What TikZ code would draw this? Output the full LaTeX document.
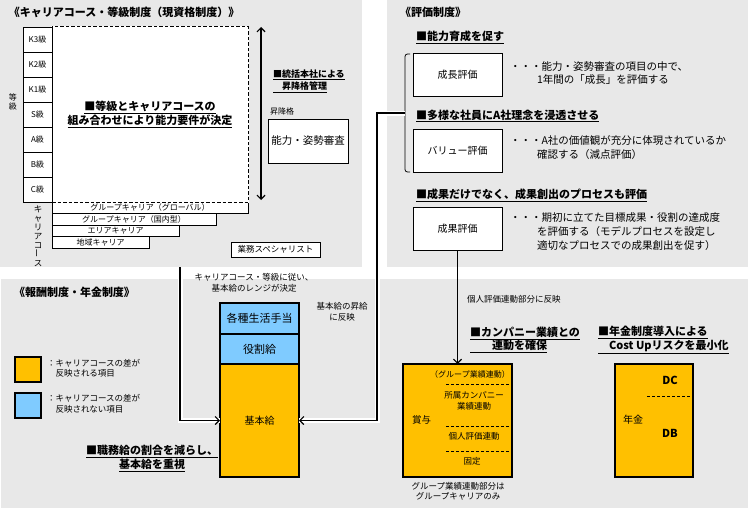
\documentclass[tikz,border=0pt]{standalone}
\usepackage{fontspec}
\usepackage{graphicx}
\setmainfont{Noto Sans CJK JP}
\usetikzlibrary{arrows.meta}
\definecolor{panelgray}{HTML}{E8E8E8}
\definecolor{orng}{HTML}{FFC000}
\definecolor{lblue}{HTML}{7FCBFF}
\begin{document}
\begin{tikzpicture}[x=1pt,y=-1pt,
  every node/.style={inner sep=0pt, outer sep=0pt},
  t8/.style={font=\fontsize{8}{9.5}\selectfont},
  t85/.style={font=\fontsize{8.5}{10.5}\selectfont},
  t10/.style={font=\fontsize{10}{12}\selectfont},
  t105/.style={font=\fontsize{10.5}{13.5}\selectfont},
  t11/.style={font=\fontsize{11}{13}\selectfont},
  hd/.style={font=\bfseries\fontsize{11}{13.5}\selectfont},
  ttl/.style={font=\bfseries\fontsize{11}{13}\selectfont, anchor=west},
  grade/.style={draw, fill=white, minimum width=29pt, minimum height=25pt, t8},
  bar/.style={draw, fill=white, anchor=north west, minimum height=11.5pt, t8},
  evbox/.style={draw, fill=white, minimum width=89pt, minimum height=43pt, t10},
  pay/.style={draw, line width=1.4pt, minimum width=79pt},
  conn/.style={line width=1.2pt, -{Straight Barb[length=4pt,width=8pt]}},
  casing/.style={preaction={draw=white, line width=5pt, arrows=-}},
  dsh/.style={dash pattern=on 3pt off 2pt, line width=0.9pt}]
\useasboundingbox (0,0) rectangle (750,511);
% panels
\fill[panelgray] (0,0) rectangle (362,267);
\fill[panelgray] (387,0) rectangle (748,267);
\fill[panelgray] (1,279) rectangle (748,508);

% ===== top-left panel =====
\node[ttl] (t1) at (9,12) {《キャリアコース・等級制度（現資格制度）》};
\node[bar, minimum width=196pt] (c1) at (52,202) {グループキャリア（グローバル）};
\node[bar, minimum width=164pt] (c2) at (52,213.5) {グループキャリア（国内型）};
\node[bar, minimum width=127pt] (c3) at (52,225) {エリアキャリア};
\node[bar, minimum width=97pt] (c4) at (52,236.5) {地域キャリア};
\node[draw, fill=white, dash pattern=on 3.5pt off 2pt, line width=1pt,
      preaction={draw=white, solid, line width=1.2pt},
      minimum width=196pt, minimum height=175pt] (main) at (150,114.5) {};
\node[hd, align=center] (maintxt) at (150,114.5)
  {\underline{■等級とキャリアコースの}\\\underline{組み合わせにより能力要件が決定}};
\node[grade] (g1) at (37.5,39.5) {K3級};
\node[grade] (g2) at (37.5,64.5) {K2級};
\node[grade] (g3) at (37.5,89.5) {K1級};
\node[grade] (g4) at (37.5,114.5) {S級};
\node[grade] (g5) at (37.5,139.5) {A級};
\node[grade] (g6) at (37.5,164.5) {B級};
\node[grade] (g7) at (37.5,189.5) {C級};
\node[font=\fontsize{8}{9}\selectfont, align=center] (tokyu) at (13,102) {等\\級};
\node[font=\fontsize{8.5}{9}\selectfont, align=center] (cc) at (38,236)
  {キ\\ャ\\リ\\ア\\コ\\\rotatebox{90}{ー}\\ス};
\coordinate (da1) at (261,27);
\coordinate (da2) at (261,200);
\draw[line width=1.2pt, {Straight Barb[length=4pt,width=8pt]}-{Straight Barb[length=4pt,width=8pt]}] (da1) -- (da2);
\node[font=\bfseries\fontsize{9}{12.5}\selectfont, align=left, anchor=west] (tokatsu) at (273,81)
  {\underline{■統括本社による}\\\underline{　昇降格管理}};
\node[t8, anchor=west] (shoko) at (270,111) {昇降格};
\node[draw, fill=white, minimum width=80pt, minimum height=44pt, t105] (shinsa) at (308,141) {能力・姿勢審査};
\node[draw, fill=white, minimum width=89pt, minimum height=15pt, t85] (gyomu) at (275.5,249.5) {業務スペシャリスト};

% ===== top-right panel =====
\node[ttl] (t2) at (400,12) {《評価制度》};
\node[hd, anchor=west] (h1) at (416,37) {\underline{■能力育成を促す}};
\node[evbox] (seicho) at (457.5,74.5) {成長評価};
\node[t105, anchor=west] (d1a) at (510,67) {・・・能力・姿勢審査の項目の中で、};
\node[t105, anchor=west] (d1b) at (537,80) {1年間の「成長」を評価する};
\node[hd, anchor=west] (h2) at (416,116) {\underline{■多様な社員にA社理念を浸透させる}};
\node[evbox] (value) at (457.5,150.5) {バリュー評価};
\node[t105, anchor=west] (d2a) at (510,141) {・・・A社の価値観が充分に体現されているか};
\node[t105, anchor=west] (d2b) at (537,155) {確認する（減点評価）};
\node[hd, anchor=west] (h3) at (416,195) {\underline{■成果だけでなく、成果創出のプロセスも評価}};
\node[evbox] (seika) at (457.5,228.5) {成果評価};
\node[t105, anchor=west] (d3a) at (510,218) {・・・期初に立てた目標成果・役割の達成度};
\node[t105, anchor=west] (d3b) at (537,232) {を評価する（モデルプロセスを設定し};
\node[t105, anchor=west] (d3c) at (537,246) {適切なプロセスでの成果創出を促す）};
\draw[line width=0.8pt, rounded corners=2.5pt] (410,54) -| (405,172) -- (410,172);
\coordinate (brk) at (405,113);
\coordinate (rc) at (377,113);

% ===== bottom panel =====
\node[ttl] (t3) at (14,292) {《報酬制度・年金制度》};
\node[draw, line width=1.4pt, fill=orng, minimum width=26pt, minimum height=25pt] (lg1) at (28,369.5) {};
\node[t85, align=left, anchor=west] (lg1t) at (47,368.5) {：キャリアコースの差が\\\phantom{：}反映される項目};
\node[draw, line width=1.4pt, fill=lblue, minimum width=26pt, minimum height=25pt] (lg2) at (28,405.5) {};
\node[t85, align=left, anchor=west] (lg2t) at (47,404) {：キャリアコースの差が\\\phantom{：}反映されない項目};

\node[pay, fill=orng, minimum height=113pt, t10] (kihon) at (259.5,420.5) {基本給};
\node[pay, fill=lblue, minimum height=30pt, t11] (yakuwari) at (259.5,349) {役割給};
\node[pay, fill=lblue, minimum height=31pt, t11] (seikatsu) at (259.5,318.5) {各種生活手当};
\node[t85, align=center, font=\fontsize{8.5}{11}\selectfont] (range) at (254,282.5)
  {キャリアコース・等級に従い、\\基本給のレンジが決定};
\node[t85, align=center] (shokyu) at (342,312) {基本給の昇給\\に反映};
\node[hd, align=center] (shokumu) at (152,458.5)
  {\underline{■職務給の割合を減らし、}\\\underline{基本給を重視}};

\coordinate (cl) at (180,267);
\draw[conn, casing] (cl) |- (kihon.west);
\draw[conn, casing] (brk) -- (rc) |- (kihon.east);

\node[t85, anchor=west] (kojin) at (467,299) {個人評価連動部分に反映};
\node[hd, align=left, anchor=west] (h4) at (470,340)
  {\underline{■カンパニー業績との}\\\underline{　　連動を確保}};
\node[hd, align=left, anchor=west] (h5) at (598,340)
  {\underline{■年金制度導入による}\\\underline{　Cost Upリスクを最小化}};

\node[pay, fill=orng, minimum width=109pt, minimum height=113pt] (shoyo) at (457.5,420.5) {};
\draw[conn] (seika.south) -- (shoyo.north);
\node[t8] (s1) at (470,374) {（グループ業績連動）};
\draw[dsh] (446,384) -- (509,384);
\node[t85, align=center, font=\fontsize{8.5}{11}\selectfont] (s2) at (474,400.5) {所属カンパニー\\業績連動};
\node[font=\fontsize{9.5}{11}\selectfont, anchor=west] (s0) at (412,420) {賞与};
\draw[dsh] (446,426) -- (509,426);
\node[t85] (s3) at (474,436) {個人評価連動};
\draw[dsh] (446,451) -- (509,451);
\node[t85] (s4) at (472,461) {固定};
\node[t85, align=center, font=\fontsize{8.5}{9.5}\selectfont] (gnote) at (458,491.5)
  {グループ業績連動部分は\\グループキャリアのみ};

\node[pay, fill=orng, minimum width=78pt, minimum height=113pt] (nenkin) at (654,420.5) {};
\node[font=\bfseries\fontsize{11}{13}\selectfont] (dc) at (670,380) {DC};
\draw[dsh] (647,396) -- (693,396);
\node[t10] (nk) at (633,420) {年金};
\node[font=\bfseries\fontsize{11}{13}\selectfont] (db) at (670,433) {DB};
\end{tikzpicture}
\end{document}
